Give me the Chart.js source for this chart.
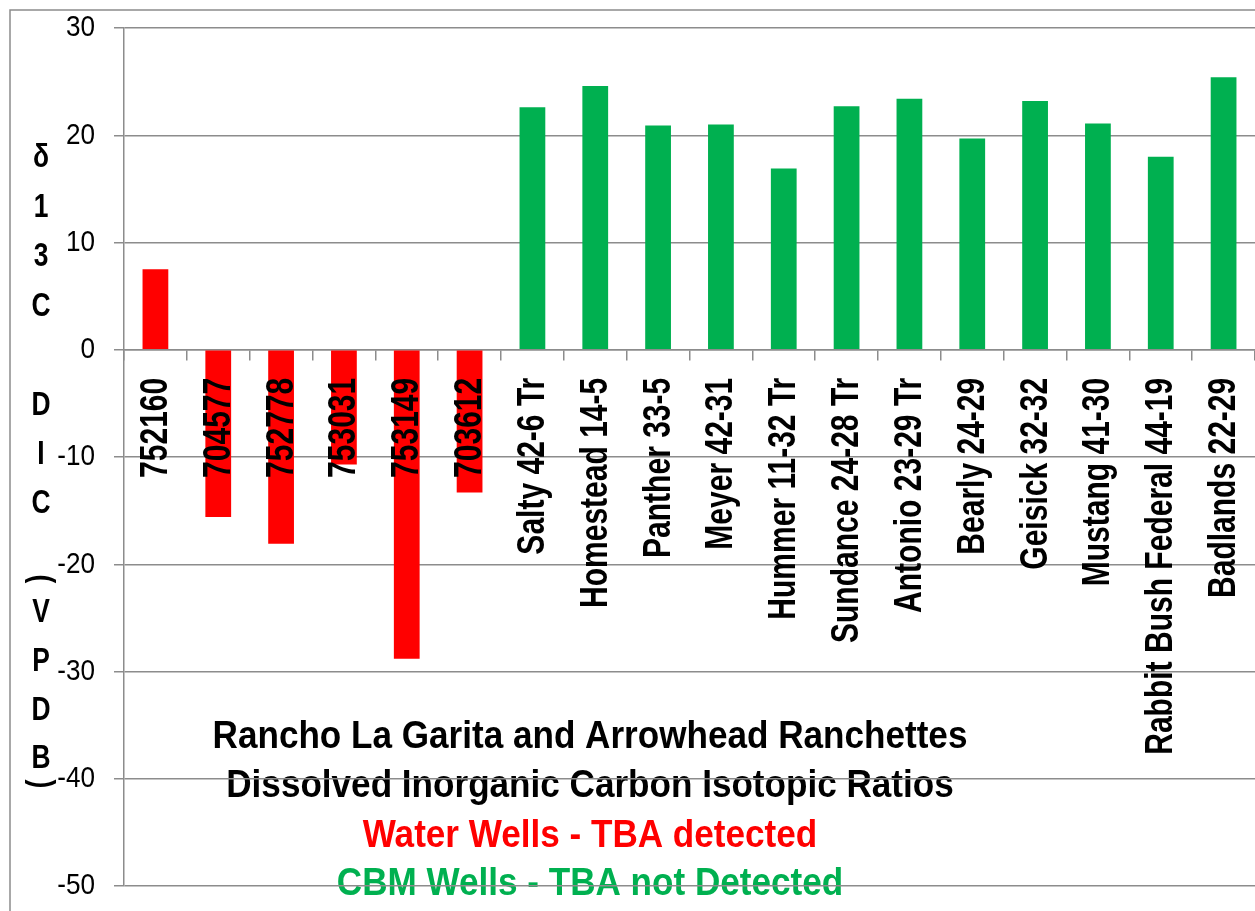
<!DOCTYPE html>
<html>
<head>
<meta charset="utf-8">
<script src="https://cdn.jsdelivr.net/npm/chart.js@4.4.0/dist/chart.umd.min.js"></script>
<style>
  html, body { margin: 0; padding: 0; background: #fff; overflow: hidden; }
  #chart { display: block; }
</style>
</head>
<body>
<canvas id="chart" width="1255" height="911" style="width:1255px;height:911px"></canvas>
<script>
const categories = ["752160", "704577", "752778", "753031", "753149", "703612",
  "Salty 42-6 Tr", "Homestead 14-5", "Panther 33-5", "Meyer 42-31", "Hummer 11-32 Tr",
  "Sundance 24-28 Tr", "Antonio 23-29 Tr", "Bearly 24-29", "Geisick 32-32",
  "Mustang 41-30", "Rabbit Bush Federal 44-19", "Badlands 22-29"];
const waterWells = [7.5, -15.6, -18.1, -10.7, -28.8, -13.3];
const cbmWells = [22.6, 24.6, 20.9, 21.0, 16.9, 22.7, 23.4, 19.7, 23.2, 21.1, 18.0, 25.4];
const yMin = -50, yMax = 30, yStep = 10;
const titleLines = ["Rancho La Garita and Arrowhead Ranchettes", "Dissolved Inorganic Carbon Isotopic Ratios"];
const seriesNames = ["Water Wells - TBA detected", "CBM Wells - TBA not Detected"];
const yTitle = "δ13C DIC (VPDB)";

const RED = "#ff0000";
const GREEN = "#00b050";
const GRAY = "#8c8c8c";
// Arial Narrow is not installed: use Liberation Sans and squeeze it sideways
const FONT = "'Liberation Sans', Arial, sans-serif";
// row centres for the stacked y title (spaces get no glyph)
const yTitleRows = [158, 208, 257, 307, 356, 406, 455, 504, 545, 579, 613, 662, 711, 759, 784];

// pad the two series out to the full category list
const waterData = categories.map((c, i) => i < waterWells.length ? waterWells[i] : null);
const cbmData = categories.map((c, i) => i < waterWells.length ? null : cbmWells[i - waterWells.length]);

function squeezedText(ctx, text, x, y, sx, angle) {
  ctx.save();
  ctx.translate(x, y);
  if (angle) ctx.rotate(angle);
  ctx.scale(sx, 1);
  ctx.fillText(text, 0, 0);
  ctx.restore();
}

const annotations = {
  id: "annotations",
  beforeDraw(chart) {
    const ctx = chart.ctx;
    ctx.save();
    ctx.strokeStyle = GRAY;
    ctx.lineWidth = 1.5;
    ctx.beginPath();
    ctx.moveTo(10, chart.height);
    ctx.lineTo(10, 10);
    ctx.lineTo(chart.width, 10);
    ctx.stroke();

    // title block inside the plot (the gridlines run over it)
    const cx = chart.chartArea.left + 466;
    ctx.font = "bold 39px " + FONT;
    ctx.textAlign = "center";
    ctx.textBaseline = "alphabetic";
    ctx.fillStyle = "#000";
    squeezedText(ctx, titleLines[0], cx, 748, 0.9);
    squeezedText(ctx, titleLines[1], cx, 797, 0.9);
    ctx.fillStyle = RED;
    squeezedText(ctx, seriesNames[0], cx, 847, 0.9);
    ctx.fillStyle = GREEN;
    squeezedText(ctx, seriesNames[1], cx, 895, 0.9);
    ctx.restore();
  },
  afterDatasetsDraw(chart) {
    const ctx = chart.ctx;
    const xs = chart.scales.x, ys = chart.scales.y;
    const zero = ys.getPixelForValue(0);
    ctx.save();
    ctx.fillStyle = "#000";

    // category labels, turned up, on top of the bars
    ctx.font = "bold 38px " + FONT;
    ctx.textAlign = "right";
    ctx.textBaseline = "middle";
    categories.forEach((label, i) => {
      squeezedText(ctx, label, xs.getPixelForValue(i) + 1, zero + 28, 0.79, -Math.PI / 2);
    });

    // value ticks
    ctx.font = "30px " + FONT;
    ys.ticks.forEach(t => {
      squeezedText(ctx, String(t.value), ys.right - 29, ys.getPixelForValue(t.value), 0.87);
    });

    // stacked axis title, one glyph per row, brackets turned sideways
    ctx.font = "bold 33px " + FONT;
    ctx.textAlign = "center";
    [...yTitle].forEach((ch, i) => {
      if (ch === " ") return;
      const turned = ch === "(" || ch === ")";
      squeezedText(ctx, ch, 41, yTitleRows[i], 0.8, turned ? Math.PI / 2 : 0);
    });
    ctx.restore();
  }
};

new Chart(document.getElementById("chart"), {
  type: "bar",
  data: {
    labels: categories,
    datasets: [
      { label: seriesNames[0], data: waterData, backgroundColor: RED, borderWidth: 0 },
      { label: seriesNames[1], data: cbmData, backgroundColor: GREEN, borderWidth: 0 }
    ]
  },
  options: {
    responsive: false,
    animation: false,
    devicePixelRatio: 1,
    layout: { padding: { top: 28, bottom: 25, left: 0, right: 0 } },
    datasets: {
      bar: { grouped: false, barPercentage: 0.41, categoryPercentage: 1 }
    },
    plugins: {
      legend: { display: false },
      title: { display: false },
      tooltip: { enabled: false }
    },
    scales: {
      x: {
        position: { y: 0 },
        grid: { display: true, drawOnChartArea: false, drawTicks: true, tickLength: 10, color: GRAY, lineWidth: 1.5 },
        border: { display: true, color: GRAY, width: 1.5 },
        ticks: { display: false, autoSkip: false }
      },
      y: {
        min: yMin, max: yMax,
        afterFit(scale) { scale.width = 124; },
        grid: { color: GRAY, lineWidth: 1.5, drawTicks: true, tickLength: 10 },
        border: { display: true, color: GRAY, width: 1.5 },
        ticks: { display: false, stepSize: yStep }
      }
    }
  },
  plugins: [annotations]
});
</script>
</body>
</html>
